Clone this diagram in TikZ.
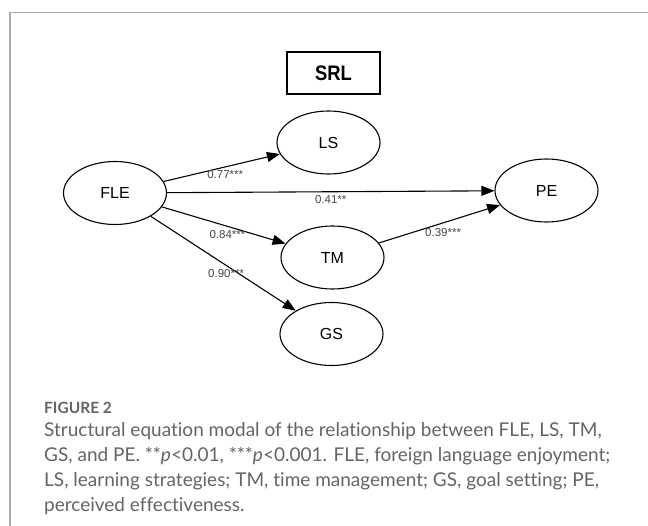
\documentclass[tikz,border=0pt]{standalone}
\usepackage{fontspec}
\setmainfont{Liberation Sans}
\newfontfamily\capfont[Ligatures=NoCommon]{Lato}
\usetikzlibrary{shapes.geometric,arrows.meta}
\definecolor{framegray}{HTML}{ABABAB}
\definecolor{captext}{HTML}{646466}
\definecolor{coeftext}{HTML}{454545}

\begin{document}
\begin{tikzpicture}[x=1pt,y=-1pt]

        \useasboundingbox (0,0) rectangle (648,526);
        \draw[framegray, line width=1.2pt] (648,12.5) -- (10,12.5) -- (10,526);

        \node[draw, line width=1.3pt, minimum width=93pt, minimum height=42pt,
              font=\bfseries\fontsize{20}{20}\selectfont] (srl) at (333.5,73) {\scalebox{.92}[1.05]{SRL}};

        \begin{scope}[every node/.style={ellipse, draw, line width=1.1pt, minimum width=103pt,
                      minimum height=63pt, inner sep=0pt, font=\fontsize{16}{16}\selectfont}]
          \node (fle) at (115,193)     {FLE};
          \node (ls)  at (328.5,142.5) {LS};
          \node (pe)  at (546.5,190.5) {PE};
          \node (tm)  at (332.5,257.5) {TM};
          \node (gs)  at (331.5,334)   {GS};
        \end{scope}

        \begin{scope}[every node/.style={font=\fontsize{11.5}{11.5}\selectfont, text=coeftext, yshift=-8pt}]

          \begin{scope}[every edge/.style={draw, line width=1.1pt, -{Triangle[length=13pt,width=10pt]}}]
            \path (fle) edge node[pos=.53] (c1) {0.77***} (ls);
            \path (fle) edge node[pos=.50] (c2) {0.41**}  (pe);
            \path (fle) edge node[pos=.53] (c3) {0.84***} (tm);
            \path (fle) edge node[pos=.52] (c4) {0.90***} (gs);
            \path (tm)  edge node[pos=.53, yshift=-2pt] (c5) {0.39***} (pe);
          \end{scope}
        \end{scope}

        % caption
        \node[anchor=north west, inner sep=0pt, text=captext,
              font=\capfont\bfseries\fontsize{15.5}{15.5}\selectfont] (fig) at (44,402) {FIGURE 2};
        \node[anchor=north west, inner sep=0pt, align=left, text=captext,
              font=\capfont\fontsize{19}{25}\selectfont] (cap) at (44,422)
          {Structural equation modal of the relationship between FLE, LS, TM,\\
           GS, and PE. **\textit{p}<0.01, ***\textit{p}<0.001. FLE, foreign language enjoyment;\\
           LS, learning strategies; TM, time management; GS, goal setting; PE,\\
           perceived effectiveness.};

      \end{tikzpicture}
\end{document}
